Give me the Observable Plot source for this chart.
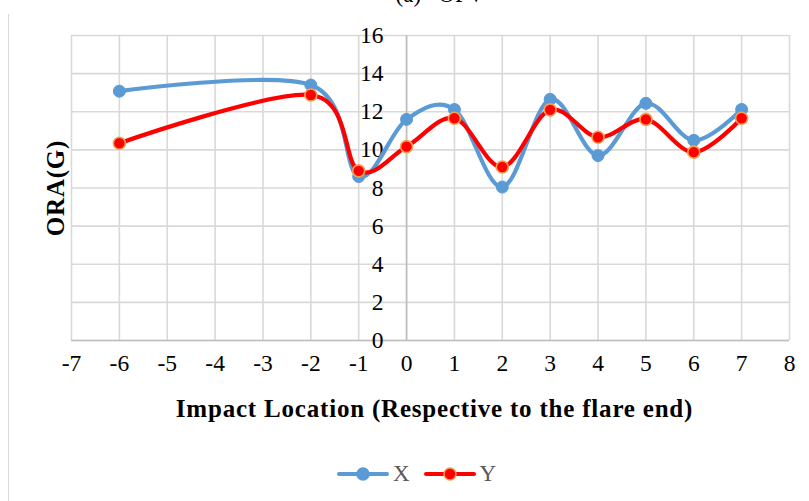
<!DOCTYPE html>
<html>
<head>
<meta charset="utf-8">
<script src="https://cdn.jsdelivr.net/npm/d3@7"></script>
<script src="https://cdn.jsdelivr.net/npm/@observablehq/plot@0.6"></script>
<style>
  html, body { margin: 0; padding: 0; background: #fff; }
  #wrap { position: relative; width: 809px; height: 501px; overflow: hidden; background: #fff; font-family: "Liberation Serif", "Times New Roman", serif; }
  #title { position: absolute; left: 0; width: 880px; text-align: center; top: -16px; font-size: 23px; color: #000; line-height: 22px; }
  #border { position: absolute; left: 8px; top: 14px; width: 1px; height: 490px; background: #d9d9d9; }
  #chart { position: absolute; left: 0; top: 0; }
  #legend { position: absolute; left: 0; width: 809px; top: 461px; display: flex; justify-content: center; align-items: center; gap: 14px; font-size: 23px; color: #595959; padding-left: 24px; box-sizing: border-box; }
  .item { display: flex; align-items: center; gap: 4px; }
</style>
</head>
<body>
<div id="wrap">
  <div id="title">(a)&nbsp;&nbsp;&nbsp;OPV</div>
  <div id="border"></div>
  <div id="chart"></div>
  <div id="legend"></div>
</div>
<script>
const locations = [-6, -2, -1, 0, 1, 2, 3, 4, 5, 6, 7];
const seriesX = [13.08, 13.4, 8.6, 11.6, 12.12, 8.05, 12.65, 9.7, 12.44, 10.5, 12.12];
const seriesY = [10.35, 12.88, 8.9, 10.17, 11.66, 9.1, 12.1, 10.66, 11.6, 9.88, 11.66];
const xTicks = [-7, -6, -5, -4, -3, -2, -1, 0, 1, 2, 3, 4, 5, 6, 7, 8];
const yTicks = [0, 2, 4, 6, 8, 10, 12, 14, 16];
const seriesNames = ["X", "Y"];
const colors = ["#5B9BD5", "#FF0000"];
const xLabel = "Impact Location (Respective to the flare end)";
const yLabel = "ORA(G)";

const rows = [];
locations.forEach((loc, i) => {
  rows.push({series: "X", x: loc, y: seriesX[i]});
  rows.push({series: "Y", x: loc, y: seriesY[i]});
});
const rowsX = rows.filter(d => d.series === "X");
const rowsY = rows.filter(d => d.series === "Y");

const font = "Liberation Serif, Times New Roman, serif";

const chart = Plot.plot({
  width: 809,
  height: 501,
  marginLeft: 71,
  marginRight: 20,
  marginTop: 35,
  marginBottom: 161,
  style: {background: "transparent", fontFamily: font, overflow: "visible"},
  x: {domain: [-7, 8], axis: null},
  y: {domain: [0, 16], axis: null},
  marks: [
    Plot.ruleY(yTicks, {y: d => d, stroke: "#d9d9d9", strokeWidth: 1.6}),
    Plot.ruleX(xTicks, {x: d => d, stroke: "#d9d9d9", strokeWidth: 1.6}),
    Plot.ruleX([0], {x: d => d, stroke: "#bfbfbf", strokeWidth: 1.6}),
    Plot.ruleY([0], {y: d => d, stroke: "#bfbfbf", strokeWidth: 1.6}),
    Plot.text(yTicks, {x: 0, y: d => d, text: d => String(d), dx: -23, textAnchor: "end", fontSize: 23.5, fill: "#000", fontFamily: font}),
    Plot.text(xTicks, {x: d => d, y: 0, text: d => String(d), dy: 23, fontSize: 23.5, fill: "#000", fontFamily: font}),
    Plot.line(rowsX, {x: "x", y: "y", curve: "cardinal", stroke: colors[0], strokeWidth: 4.2}),
    Plot.line(rowsY, {x: "x", y: "y", curve: "cardinal", stroke: colors[1], strokeWidth: 4.2}),
    Plot.dot(rowsX, {x: "x", y: "y", r: 6, fill: colors[0], stroke: colors[0], strokeWidth: 1}),
    Plot.dot(rowsY, {x: "x", y: "y", r: 6, fill: colors[1], stroke: "#F4A050", strokeWidth: 1.6}),
    Plot.text([yLabel], {frameAnchor: "left", textAnchor: "middle", lineAnchor: "middle", dx: -16, rotate: -90, fontSize: 25, fontWeight: "bold", fill: "#000", fontFamily: font}),
    Plot.text([xLabel], {frameAnchor: "bottom", textAnchor: "middle", lineAnchor: "middle", dx: 4, dy: 68, fontSize: 25, fontWeight: "bold", fill: "#000", fontFamily: font})
  ]
});
d3.select(chart).selectAll("text")
  .filter(function() { const t = this.textContent; return t === xLabel || t === yLabel; })
  .attr("letter-spacing", "0.8px");
document.getElementById("chart").appendChild(chart);

const legend = d3.select("#legend");
seriesNames.forEach((name, i) => {
  const item = legend.append("div").attr("class", "item");
  const svg = item.append("svg").attr("width", 52).attr("height", 16);
  svg.append("line").attr("x1", 2).attr("x2", 50).attr("y1", 8).attr("y2", 8)
    .attr("stroke", colors[i]).attr("stroke-width", 4).attr("stroke-linecap", "round");
  svg.append("circle").attr("cx", 26).attr("cy", 8).attr("r", 6)
    .attr("fill", colors[i]).attr("stroke", i === 0 ? colors[0] : "#F4A050").attr("stroke-width", 1.5);
  item.append("span").text(name);
});
</script>
</body>
</html>
